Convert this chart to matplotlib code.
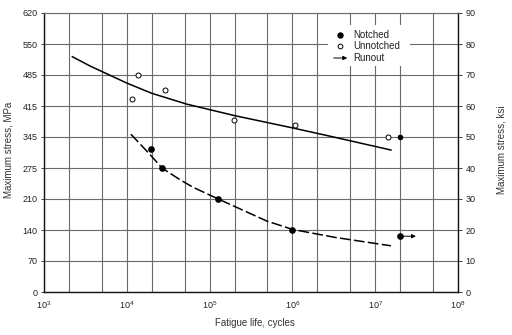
import matplotlib
matplotlib.use("Agg")
import matplotlib.pyplot as plt
from matplotlib.ticker import FixedLocator, NullFormatter
from matplotlib.patches import Rectangle, FancyArrowPatch

plt.rcParams['font.family'] = ['Liberation Sans Narrow', 'Liberation Sans', 'DejaVu Sans']
plt.rcParams['mathtext.fontset'] = 'custom'
plt.rcParams['mathtext.rm'] = 'Liberation Sans'

# Unnotched specimens (cycles, ksi)
unnotched_N = [1.35e4, 2.87e4, 1.15e4, 1.97e5, 1.07e6, 1.43e7]
unnotched_S = [70.0, 65.1, 62.4, 55.5, 53.9, 50.0]

# Notched specimens (cycles, ksi)
notched_N = [1.96e4, 2.68e4, 1.27e5, 1.0e6]
notched_S = [46.1, 40.0, 30.0, 20.0]

# Runout specimens (did not fail)
runout_N = [2.0e7, 2.0e7]
runout_S = [18.0, 50.0]
runout_end_N = [3.1e7, 2.2e7]
runout_size = [3.8, 3.0]

# Fitted S-N curves
unnotched_curve_N = [2.2e3, 3.6e3, 1.0e4, 2.0e4, 5.3e4, 2.0e5, 9.4e5, 2.8e6, 1.55e7]
unnotched_curve_S = [75.9, 72.9, 67.4, 64.1, 60.6, 56.9, 53.1, 50.3, 45.8]
notched_curve_N = [1.12e4, 1.96e4, 2.66e4, 4.4e4, 6.3e4, 1.27e5, 4.9e5, 1.0e6, 3.3e6, 1.55e7]
notched_curve_S = [50.9, 44.0, 40.0, 36.2, 33.8, 30.0, 22.9, 20.2, 17.6, 14.9]

ksi_ticks = [0, 10, 20, 30, 40, 50, 60, 70, 80, 90]
mpa_labels = ['0', '70', '140', '210', '275', '345', '415', '485', '550', '620']
x_decades = [1e3, 1e4, 1e5, 1e6, 1e7, 1e8]
x_labels = [r'$\mathregular{10^{%d}}$' % e for e in range(3, 9)]
x_minor = [m * 10.0 ** e for e in range(3, 8) for m in (2, 5)]

fig = plt.figure(figsize=(5.12, 3.35), dpi=100)
ax = fig.add_axes([44 / 512, 43 / 335, 414 / 512, 279 / 335])
ax.set_xscale('log')
ax.set_xlim(1e3, 1e8)
ax.set_ylim(0, 90)

grid_c = '#6a6a6a'
ax.xaxis.set_major_locator(FixedLocator(x_decades))
ax.xaxis.set_minor_locator(FixedLocator(x_minor))
ax.xaxis.set_minor_formatter(NullFormatter())
ax.set_xticklabels(x_labels)
ax.set_yticks(ksi_ticks)
ax.set_yticklabels(mpa_labels)
ax.grid(True, which='both', color=grid_c, lw=0.8)
ax.set_axisbelow(True)

ax.tick_params(axis='x', which='both', length=0, pad=5, labelsize=6.5, colors='#222222')
ax.tick_params(axis='y', length=2, width=0.6, pad=2.5, labelsize=6.5, colors='#222222')
for side in ('left', 'bottom', 'right'):
    ax.spines[side].set_color('#111111')
    ax.spines[side].set_linewidth(1.0)
ax.spines['top'].set_color(grid_c)
ax.spines['top'].set_linewidth(0.8)

ax2 = ax.twinx()
ax2.set_ylim(0, 90)
ax2.set_yticks(ksi_ticks)
ax2.tick_params(axis='y', length=3, width=0.6, pad=2.5, labelsize=6.5, colors='#222222')
for s in ax2.spines.values():
    s.set_visible(False)

ax.set_ylabel('Maximum stress, MPa', fontsize=7, color='#333333')
ax.yaxis.set_label_coords(-0.0725, 0.51)
ax2.set_ylabel('Maximum stress, ksi', fontsize=7, color='#333333')
ax2.yaxis.set_label_coords(1.094, 0.51)
ax.set_xlabel('Fatigue life, cycles', fontsize=7, color='#333333')
ax.xaxis.set_label_coords(0.51, -0.093)

# S-N curves
ax.plot(unnotched_curve_N, unnotched_curve_S, color='black', lw=1.1, zorder=3)
ax.plot(notched_curve_N, notched_curve_S, color='black', lw=1.1,
        linestyle=(0, (7, 2.2)), zorder=3)

# Data points
ax.plot(unnotched_N, unnotched_S, 'o', ms=3.6, mfc='white', mec='black',
        mew=0.7, zorder=4)
ax.plot(notched_N, notched_S, 'o', ms=3.8, color='black', zorder=4)
for n0, s0, n1, ms in zip(runout_N, runout_S, runout_end_N, runout_size):
    ax.plot([n0], [s0], 'o', ms=ms, color='black', zorder=4)
    ax.annotate('', xy=(n1, s0), xytext=(n0, s0),
                arrowprops=dict(arrowstyle='-|>', color='black', lw=0.7,
                                mutation_scale=6, shrinkA=0, shrinkB=0),
                zorder=4)

# Key
def axfrac(px, py):
    return ((px - 44) / 414, (292 - py) / 279)

x0, y0 = axfrac(328, 66)
x1, y1 = axfrac(410, 25)
ax.add_patch(Rectangle((x0, y0), x1 - x0, y1 - y0, transform=ax.transAxes,
                       facecolor='white', edgecolor='none', zorder=2.5))
mx, _ = axfrac(340, 0)
tx, _ = axfrac(353, 0)
for py, label in ((35, 'Notched'), (46, 'Unnotched'), (58, 'Runout')):
    _, ty = axfrac(0, py)
    ax.text(tx, ty, label, transform=ax.transAxes, fontsize=7, va='center',
            ha='left', color='#222222', zorder=5)
_, ty = axfrac(0, 35)
ax.plot([mx], [ty], 'o', ms=3.6, color='black', transform=ax.transAxes, zorder=5)
_, ty = axfrac(0, 46)
ax.plot([mx], [ty], 'o', ms=3.4, mfc='white', mec='black', mew=0.7,
        transform=ax.transAxes, zorder=5)
_, ty = axfrac(0, 58)
a0, _ = axfrac(331, 0)
a1, _ = axfrac(350, 0)
ax.add_patch(FancyArrowPatch((a0, ty), (a1, ty), transform=ax.transAxes,
                             arrowstyle='-|>', mutation_scale=6, lw=0.7,
                             color='black', zorder=5))

fig.savefig('out.png', dpi=100)
